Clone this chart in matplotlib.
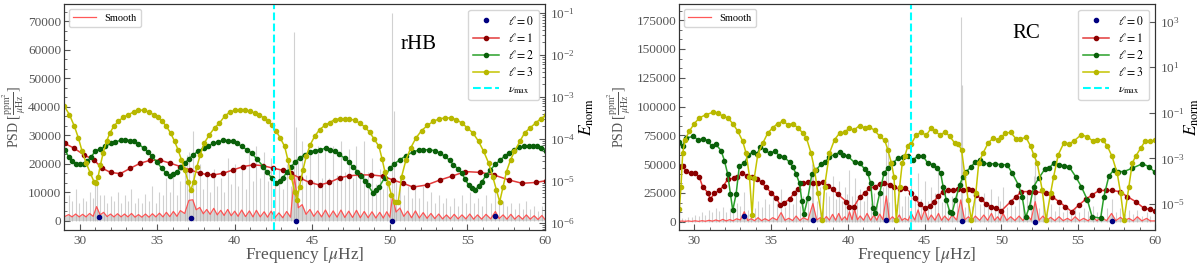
import numpy as np
import matplotlib
matplotlib.use('Agg')
import matplotlib.pyplot as plt
from matplotlib.ticker import AutoMinorLocator, FixedLocator, LogLocator, NullLocator, MultipleLocator

plt.rcParams['font.family'] = ['Liberation Serif', 'DejaVu Serif']
plt.rcParams['mathtext.fontset'] = 'stix'

# ---------------- rHB ----------------
hb_bump_nu = [29.3, 29.75, 30.2, 30.65, 31.1,
              31.55, 32.0, 32.45, 32.9, 33.35,
              33.8, 34.25, 34.7, 35.15, 35.6,
              36.05, 36.5, 37.05, 37.3, 37.75,
              38.2, 38.65, 39.1, 39.55, 40.0,
              40.45, 40.95, 41.4, 41.9, 42.35,
              42.85, 43.35, 43.85, 44.35, 44.85,
              45.35, 45.85, 46.35, 46.85, 47.35,
              47.85, 48.35, 48.85, 49.35, 49.8,
              50.17, 50.65, 51.15, 51.65, 52.15,
              52.65, 53.15, 53.65, 54.15, 54.65,
              55.15, 55.65, 56.2, 56.8, 57.3,
              57.8, 58.3, 58.8, 59.3, 59.8]
hb_bump_psd = [2100, 2300, 2200, 2500, 4900,
               2900, 2300, 2400, 2300, 2500,
               2100, 2300, 2400, 2600, 2900,
               3200, 3500, 7100, 7300, 4600,
               3900, 4300, 3600, 3900, 3300,
               3700, 3400, 3600, 3100, 3300,
               2700, 3200, 15500, 5600, 3900,
               3400, 3700, 3400, 3700, 3300,
               3600, 3200, 3100, 2900, 3100,
               8500, 4400, 3300, 3400, 2800,
               2500, 2300, 2000, 2200, 2000,
               2300, 2000, 2200, 3200, 2000,
               2200, 1800, 2000, 1700, 1800]
hb_spike = [9000, 11000, 8000, 10000, 14500,
            9000, 8500, 10000, 9000, 11000,
            8000, 9500, 12000, 10000, 15000,
            17000, 14000, 24000, 31500, 20000,
            16000, 18000, 15000, 22000, 20000,
            18000, 24000, 26000, 24000, 22000,
            18000, 20000, 66000, 28000, 24000,
            26000, 25000, 26000, 28000, 25000,
            26000, 28000, 22000, 18000, 14000,
            72700, 15000, 12000, 13000, 12000,
            10000, 9000, 8000, 8000, 9000,
            10000, 8000, 9000, 10000, 7000,
            6000, 6000, 7000, 5000, 5000]
hb_dip_nu = [29.0, 29.52, 29.98, 30.42, 30.88,
             31.33, 31.78, 32.22, 32.68, 33.12,
             33.58, 34.02, 34.48, 34.92, 35.38,
             35.82, 36.28, 36.78, 37.52, 37.98,
             38.42, 38.88, 39.32, 39.78, 40.22,
             40.7, 41.18, 41.65, 42.12, 42.6,
             43.1, 43.6, 44.1, 44.6, 45.1,
             45.6, 46.1, 46.6, 47.1, 47.6,
             48.1, 48.6, 49.1, 49.58, 50.0,
             50.4, 50.9, 51.4, 51.9, 52.4,
             52.9, 53.4, 53.9, 54.4, 54.9,
             55.4, 55.92, 56.5, 57.05, 57.55,
             58.05, 58.55, 59.05, 59.55, 60.0]
hb_dip_psd = [1300, 1300, 1300, 1300, 1500,
              2000, 1400, 1300, 1300, 1300,
              1200, 1200, 1200, 1300, 1300,
              1400, 1500, 2500, 3800, 2400,
              2200, 2000, 1800, 1700, 1500,
              1400, 1300, 1300, 1200, 1100,
              1000, 1200, 4500, 2200, 1500,
              1300, 1200, 1200, 1100, 1100,
              1000, 1000, 900, 900, 1200,
              3000, 1500, 1000, 900, 800,
              700, 600, 600, 600, 600,
              500, 500, 600, 700, 500,
              500, 500, 500, 400, 400]
hb_dip_spike = [5000, 7000, 6000, 7000, 8000,
                9000, 6000, 7000, 6000, 7000,
                6000, 6000, 7000, 6000, 9000,
                10000, 9000, 16000, 14000, 11000,
                10000, 12000, 10000, 13000, 12000,
                11000, 14000, 15000, 14000, 13000,
                11000, 12000, 22000, 16000, 14000,
                15000, 15000, 16000, 17000, 15000,
                16000, 17000, 13000, 11000, 9000,
                14000, 9000, 8000, 8000, 7000,
                6000, 6000, 5000, 5000, 6000,
                6000, 5000, 6000, 6000, 5000,
                4000, 4000, 4000, 3500, 3500]
hb_extra_nu = [31.0, 36.95, 43.95, 50.26]
hb_extra_psd = [13000, 23000, 33000, 38500]

hb_l0_nu = [31.24, 37.2, 43.92, 50.15, 56.8]
hb_l0_log = [-5.86, -5.90, -5.95, -5.96, -5.83]

hb_l1_nu = [29.06, 29.64, 30.28, 30.92, 31.46, 32.0, 32.63, 33.28, 33.92, 34.56,
            35.2, 35.85, 36.5, 37.13, 37.77, 38.2, 38.63, 39.27, 39.9, 40.56,
            41.2, 41.84, 42.48, 43.13, 43.6, 44.18, 44.83, 45.47, 46.1, 46.76,
            47.4, 48.05, 48.8, 49.55, 50.2, 50.85, 51.5, 52.38, 53.24, 54.0,
            54.86, 55.83, 56.7, 57.67, 58.53, 59.4, 60.04]
hb_l1_log = [-4.11, -4.22, -4.38, -4.50, -4.70, -4.80, -4.83, -4.70, -4.58, -4.51,
             -4.51, -4.58, -4.66, -4.74, -4.82, -4.85, -4.86, -4.82, -4.74, -4.66,
             -4.62, -4.64, -4.70, -4.75, -4.82, -4.93, -5.04, -5.10, -5.04, -4.93,
             -4.88, -4.86, -4.86, -4.89, -4.98, -5.06, -5.15, -5.10, -4.98, -4.89,
             -4.78, -4.80, -4.86, -4.98, -5.06, -5.04, -5.00]

hb_l2_nu = [29.06, 29.3, 29.53, 29.8, 30.06, 30.3, 30.5, 30.75, 31.0, 31.3,
            31.67, 32.0, 32.3, 32.65, 32.96, 33.25, 33.5, 33.8, 34.13, 34.4,
            34.67, 35.0, 35.3, 35.6, 35.85, 36.05, 36.27, 36.55, 36.8, 37.05,
            37.34, 37.65, 38.0, 38.3, 38.63, 38.95, 39.27, 39.6, 39.9, 40.18,
            40.45, 40.8, 41.1, 41.45, 41.84, 42.1, 42.38, 42.68, 42.9, 43.1,
            43.38, 43.65, 43.9, 44.18, 44.5, 44.83, 45.15, 45.47, 45.9, 46.17,
            46.44, 46.75, 47.08, 47.35, 47.6, 47.9, 48.15, 48.38, 48.58, 48.9,
            49.12, 49.33, 49.66, 50.0, 50.3, 50.65, 51.05, 51.5, 51.85, 52.16,
            52.55, 52.9, 53.25, 53.56, 53.85, 54.1, 54.38, 54.64, 54.85, 55.07,
            55.3, 55.5, 55.72, 55.94, 56.2, 56.48, 56.8, 57.13, 57.4, 57.67,
            58.0, 58.32, 58.65, 58.96, 59.25, 59.5, 59.75, 60.04]
hb_l2_log = [-4.26, -4.43, -4.53, -4.59, -4.60, -4.59, -4.53, -4.43, -4.30, -4.24,
             -4.18, -4.11, -4.08, -4.03, -4.02, -4.04, -4.06, -4.12, -4.22, -4.31,
             -4.42, -4.56, -4.70, -4.82, -4.89, -4.85, -4.78, -4.68, -4.58, -4.47,
             -4.38, -4.29, -4.22, -4.16, -4.11, -4.07, -4.03, -4.04, -4.06, -4.11,
             -4.18, -4.26, -4.34, -4.49, -4.66, -4.80, -4.93, -5.06, -5.00, -4.93,
             -4.79, -4.66, -4.55, -4.46, -4.38, -4.31, -4.28, -4.26, -4.22, -4.26,
             -4.30, -4.37, -4.46, -4.55, -4.66, -4.78, -4.88, -5.00, -5.10, -5.28,
             -5.21, -5.14, -4.93, -4.70, -4.59, -4.50, -4.40, -4.31, -4.27, -4.26,
             -4.26, -4.28, -4.34, -4.42, -4.51, -4.62, -4.71, -4.82, -4.96, -5.10,
             -5.18, -5.23, -5.12, -5.02, -4.87, -4.74, -4.61, -4.50, -4.41, -4.34,
             -4.26, -4.20, -4.18, -4.18, -4.17, -4.18, -4.21, -4.28]

hb_l3_nu = [29.02, 29.35, 29.67, 29.93, 30.17, 30.43, 30.70, 30.93, 31.04, 31.20,
            31.35, 31.52, 31.74, 31.96, 32.20, 32.50, 32.83, 33.15, 33.48, 33.80,
            34.13, 34.46, 34.78, 35.04, 35.33, 35.60, 35.87, 36.13, 36.35, 36.57,
            36.78, 37.00, 37.17, 37.35, 37.57, 37.78, 38.04, 38.37, 38.70, 39.02,
            39.35, 39.68, 40.00, 40.32, 40.64, 40.97, 41.29, 41.57, 41.87, 42.15,
            42.42, 42.68, 42.94, 43.22, 43.43, 43.65, 43.86, 44.01, 44.18, 44.40,
            44.61, 44.87, 45.15, 45.47, 45.80, 46.12, 46.44, 46.76, 47.08, 47.40,
            47.73, 48.05, 48.37, 48.70, 49.00, 49.30, 49.50, 49.68, 49.90, 50.10,
            50.32, 50.54, 50.76, 51.04, 51.34, 51.68, 52.05, 52.42, 52.80, 53.20,
            53.56, 53.93, 54.28, 54.64, 55.00, 55.36, 55.72, 56.05, 56.37, 56.63,
            56.87, 57.08, 57.30, 57.52, 57.78, 58.03, 58.38, 58.68, 59.03, 59.40,
            59.72, 60.04]
hb_l3_log = [-3.22, -3.42, -3.70, -3.98, -4.30, -4.58, -4.82, -5.02, -5.06, -4.90,
             -4.62, -4.34, -4.06, -3.86, -3.70, -3.58, -3.48, -3.42, -3.36, -3.32,
             -3.31, -3.36, -3.42, -3.48, -3.58, -3.70, -3.86, -4.06, -4.26, -4.50,
             -4.74, -5.02, -5.23, -5.02, -4.66, -4.38, -4.10, -3.90, -3.74, -3.62,
             -3.46, -3.36, -3.32, -3.30, -3.30, -3.34, -3.38, -3.42, -3.50, -3.58,
             -3.68, -3.82, -3.98, -4.18, -4.50, -4.90, -5.26, -5.46, -5.14, -4.74,
             -4.42, -4.14, -3.94, -3.78, -3.68, -3.61, -3.54, -3.52, -3.52, -3.52,
             -3.56, -3.62, -3.71, -3.84, -4.01, -4.18, -4.48, -4.78, -5.06, -5.34,
             -5.50, -5.50, -4.90, -4.50, -4.22, -3.98, -3.80, -3.68, -3.58, -3.52,
             -3.50, -3.50, -3.54, -3.62, -3.74, -3.86, -4.06, -4.30, -4.58, -4.90,
             -5.22, -5.50, -5.14, -4.78, -4.50, -4.30, -4.06, -3.86, -3.74, -3.62,
             -3.52, -3.44]

# ---------------- RC ----------------
rc_bump_nu = [29.2, 29.6, 30.05, 30.5, 30.95,
              31.4, 31.85, 32.3, 32.75, 33.25,
              33.7, 34.15, 34.6, 35.1, 35.65,
              36.15, 36.63, 37.1, 37.72, 38.2,
              38.6, 39.0, 39.4, 39.8, 40.1,
              40.43, 40.8, 41.25, 41.7, 42.07,
              42.5, 42.9, 43.35, 43.7, 44.13,
              44.57, 45.0, 45.43, 45.9, 46.3,
              46.8, 47.35, 47.85, 48.3, 48.85,
              49.35, 49.75, 50.1, 50.6, 51.15,
              51.67, 52.2, 52.7, 53.2, 53.75,
              54.3, 54.8, 55.35, 55.95, 56.5,
              57.17, 57.75, 58.3, 58.85, 59.45]
rc_bump_psd = [600, 700, 800, 900, 1200,
               1500, 2000, 1800, 2500, 8700,
               2600, 3500, 2600, 3500, 7900,
               3000, 4900, 3500, 15700, 3500,
               4500, 6400, 7200, 4300, 8700,
               10700, 5000, 7200, 5800, 6600,
               22300, 4300, 5800, 2900, 7200,
               10200, 10200, 5800, 7200, 4900,
               5800, 18900, 4300, 4900, 5800,
               7200, 4300, 7200, 4300, 4900,
               5800, 17400, 4900, 3800, 4300,
               2900, 4300, 2900, 4300, 3800,
               7200, 3800, 2900, 4300, 2900]
rc_spike = [3000, 4000, 6000, 8000, 10000,
            12000, 13000, 12000, 16000, 26000,
            15000, 18000, 20000, 24000, 28000,
            20000, 26000, 22000, 42000, 30000,
            26000, 40000, 35000, 30000, 45000,
            38000, 28000, 30000, 25000, 32000,
            65000, 28000, 25000, 22000, 38000,
            42000, 35000, 30000, 45000, 28000,
            22000, 178000, 20000, 22000, 25000,
            28000, 22000, 30000, 20000, 22000,
            25000, 55000, 20000, 15000, 14000,
            12000, 13000, 12000, 14000, 12000,
            20000, 12000, 10000, 10000, 8000]
rc_dip_nu = [29.0, 29.4, 29.82, 30.28, 30.72,
             31.18, 31.62, 32.08, 32.52, 33.0,
             33.48, 33.92, 34.38, 34.85, 35.38,
             35.9, 36.4, 36.87, 37.4, 37.97,
             38.4, 38.8, 39.2, 39.6, 39.95,
             40.27, 40.62, 41.02, 41.48, 41.88,
             42.28, 42.7, 43.12, 43.52, 43.92,
             44.35, 44.78, 45.22, 45.67, 46.1,
             46.55, 47.08, 47.6, 48.08, 48.58,
             49.1, 49.55, 49.92, 50.35, 50.88,
             51.4, 51.93, 52.45, 52.95, 53.48,
             54.02, 54.55, 55.08, 55.65, 56.22,
             56.85, 57.45, 58.02, 58.58, 59.15,
             59.7, 60.0]
rc_dip_psd = [300, 300, 300, 300, 400,
              500, 600, 700, 800, 1500,
              1000, 900, 900, 900, 1500,
              1200, 1000, 1000, 1500, 1500,
              1300, 1300, 1300, 1300, 1500,
              1800, 1600, 1300, 1300, 1300,
              1800, 1500, 1300, 1200, 1200,
              1500, 1800, 1400, 1300, 1200,
              1200, 1500, 1500, 1200, 1200,
              1200, 1200, 1200, 1100, 1000,
              1000, 1500, 1200, 900, 900,
              900, 900, 800, 800, 800,
              900, 900, 800, 700, 700,
              700, 700]
rc_dip_spike = [2000, 2500, 4000, 5000, 6000,
                8000, 9000, 8000, 10000, 14000,
                10000, 12000, 13000, 15000, 16000,
                13000, 15000, 14000, 22000, 18000,
                16000, 22000, 20000, 18000, 24000,
                22000, 17000, 18000, 16000, 19000,
                30000, 17000, 15000, 14000, 22000,
                24000, 20000, 18000, 25000, 17000,
                14000, 30000, 13000, 14000, 15000,
                17000, 14000, 18000, 13000, 14000,
                15000, 25000, 12000, 10000, 9000,
                8000, 8000, 8000, 9000, 8000,
                12000, 8000, 7000, 7000, 5000,
                5000, 4000]
rc_extra_nu = [37.65, 42.6, 47.42, 52.12]
rc_extra_psd = [50000, 71000, 119000, 40000]

rc_l0_nu = [33.26, 37.72, 42.5, 47.4, 52.2, 57.17]
rc_l0_log = [-5.53, -5.72, -5.71, -5.75, -5.78, -5.75]

rc_l1_nu = [29.02, 29.24, 29.46, 29.78, 30.04, 30.33, 30.54, 30.87, 31.04, 31.30,
            31.63, 31.91, 32.17, 32.57, 32.78, 33.10, 33.43, 33.74, 34.10, 34.40,
            34.67, 35.00, 35.33, 35.60, 35.87, 36.20, 36.48, 36.74, 37.07, 37.40,
            37.72, 38.04, 38.37, 38.70, 39.00, 39.35, 39.90, 40.10, 40.40, 40.76,
            41.10, 41.40, 41.74, 42.07, 42.35, 42.72, 43.00, 43.37, 43.70, 44.10,
            44.35, 44.67, 45.00, 45.33, 45.60, 45.90, 46.20, 46.52, 46.85, 47.17,
            47.50, 47.83, 48.09, 48.37, 48.70, 49.00, 49.35, 49.67, 50.00, 50.60,
            50.96, 51.30, 51.78, 52.20, 52.87, 53.30, 53.74, 54.17, 54.57, 55.04,
            55.48, 55.90, 56.35, 56.78, 57.20, 57.70, 58.20, 58.74, 59.28, 59.65,
            60.00]
rc_l1_log = [-3.36, -3.32, -3.57, -3.66, -3.66, -3.83, -4.25, -4.50, -4.79, -4.54,
             -4.40, -4.20, -3.91, -3.88, -3.83, -3.66, -3.76, -3.83, -3.91, -4.06,
             -4.28, -4.50, -4.75, -5.05, -4.94, -4.79, -4.54, -4.35, -4.10, -4.06,
             -4.10, -4.10, -4.06, -4.20, -4.35, -4.58, -4.90, -5.12, -5.12, -4.71,
             -4.53, -4.31, -4.24, -4.14, -4.09, -4.16, -4.24, -4.36, -4.31, -4.50,
             -4.75, -5.00, -5.19, -5.09, -4.90, -4.65, -4.46, -4.41, -4.38, -4.36,
             -4.38, -4.36, -4.41, -4.61, -4.80, -5.00, -5.12, -5.19, -5.30, -4.90,
             -4.68, -4.46, -4.46, -4.46, -4.53, -4.68, -4.90, -5.12, -5.34, -5.05,
             -4.80, -4.61, -4.41, -4.41, -4.41, -4.46, -4.68, -4.90, -5.19, -5.24,
             -5.30]

rc_l2_nu = [29.02, 29.24, 29.46, 29.93, 30.26, 30.59, 30.87, 31.13, 31.41, 31.74,
            31.96, 32.17, 32.35, 32.50, 32.72, 32.93, 33.26, 33.52, 33.80, 34.09,
            34.30, 34.57, 34.90, 35.22, 35.54, 35.87, 36.20, 36.40, 36.63, 36.85,
            37.00, 37.13, 37.40, 37.65, 37.93, 38.26, 38.52, 38.80, 39.13, 39.46,
            39.67, 40.00, 40.43, 40.76, 41.10, 41.30, 41.48, 41.63, 41.78, 42.07,
            42.35, 42.60, 42.93, 43.26, 43.58, 43.90, 44.24, 44.57, 44.90, 45.20,
            45.54, 45.83, 46.04, 46.20, 46.41, 46.63, 46.78, 47.00, 47.28, 47.50,
            47.72, 48.04, 48.26, 48.60, 48.80, 49.17, 49.56, 50.00, 50.37, 50.70,
            51.10, 51.35, 51.57, 51.83, 52.10, 52.43, 52.83, 53.10, 53.40, 53.78,
            54.07, 54.40, 54.83, 55.20, 55.60, 55.90, 56.46, 56.67, 57.00, 57.33,
            57.60, 57.98, 58.52, 59.17, 59.60, 60.00]
rc_l2_log = [-2.29, -2.44, -2.10, -2.04, -2.19, -2.14, -2.22, -2.47, -2.39, -2.66,
             -3.10, -3.69, -4.57, -5.28, -4.57, -3.32, -3.22, -2.84, -2.73, -2.81,
             -2.48, -2.63, -2.78, -2.69, -2.88, -2.95, -3.17, -3.36, -3.69, -4.10,
             -4.87, -5.46, -4.72, -3.69, -3.51, -3.25, -3.17, -2.92, -2.84, -2.73,
             -2.84, -2.91, -3.18, -3.21, -3.47, -3.65, -4.09, -5.19, -5.41, -4.53,
             -3.65, -3.43, -3.21, -2.99, -2.94, -2.91, -3.06, -2.89, -2.91, -3.21,
             -3.28, -3.43, -3.65, -4.24, -4.83, -5.34, -5.41, -4.83, -4.16, -3.80,
             -3.58, -3.36, -3.18, -3.09, -3.21, -3.24, -3.24, -3.28, -3.28, -3.65,
             -4.16, -4.68, -5.59, -5.12, -4.24, -3.87, -3.47, -3.43, -3.21, -3.28,
             -3.33, -3.36, -3.80, -4.24, -4.83, -5.56, -5.63, -4.68, -3.77, -3.50,
             -3.58, -3.58, -3.43, -3.24, -3.36, -3.62]

rc_l3_nu = [29.02, 29.13, 29.24, 29.40, 29.67, 30.00, 30.33, 30.76, 31.20, 31.52,
            31.85, 32.17, 32.50, 32.83, 33.15, 33.37, 33.59, 33.76, 33.90, 34.13,
            34.46, 34.78, 35.10, 35.43, 35.76, 36.10, 36.40, 36.74, 37.07, 37.30,
            37.60, 37.83, 38.04, 38.33, 38.48, 38.80, 39.13, 39.46, 39.78, 40.10,
            40.37, 40.76, 41.10, 41.40, 41.74, 42.07, 42.40, 42.60, 42.83, 43.00,
            43.15, 43.37, 43.54, 43.70, 43.90, 44.13, 44.46, 44.78, 45.10, 45.43,
            45.65, 45.98, 46.35, 46.63, 46.96, 47.17, 47.40, 47.60, 47.83, 48.04,
            48.33, 48.52, 48.80, 49.13, 49.46, 49.78, 50.00, 50.26, 50.60, 50.96,
            51.24, 51.60, 51.90, 52.10, 52.33, 52.65, 52.90, 53.20, 53.40, 53.70,
            54.06, 54.40, 54.70, 55.20, 55.60, 55.98, 56.24, 56.60, 56.90, 57.20,
            57.54, 57.76, 57.98, 58.30, 58.52, 58.74, 59.07, 59.35, 59.65, 60.00]
rc_l3_log = [-5.24, -4.24, -2.77, -2.18, -1.81, -1.47, -1.22, -1.08, -0.98, -1.00,
             -1.15, -1.22, -1.47, -1.81, -2.25, -2.77, -3.80, -5.49, -3.87, -2.84,
             -2.33, -1.89, -1.66, -1.47, -1.37, -1.52, -1.47, -1.66, -1.89, -2.11,
             -2.77, -3.50, -4.53, -5.71, -4.24, -2.77, -2.18, -1.89, -1.86, -1.66,
             -1.77, -1.56, -1.66, -1.62, -1.77, -2.03, -2.21, -2.62, -3.21, -3.80,
             -5.71, -4.24, -3.21, -2.91, -2.47, -2.36, -1.96, -1.86, -1.99, -1.66,
             -1.81, -1.96, -1.86, -2.03, -2.33, -2.36, -2.62, -3.65, -4.83, -5.71,
             -4.53, -3.21, -2.77, -2.33, -2.11, -2.18, -2.06, -1.89, -1.86, -2.15,
             -2.15, -2.08, -2.47, -2.84, -3.21, -4.38, -5.71, -4.53, -3.80, -2.84,
             -2.33, -2.36, -2.25, -1.96, -2.06, -2.25, -2.18, -2.18, -2.47, -2.91,
             -3.65, -4.53, -5.71, -4.24, -3.21, -2.91, -2.55, -2.25, -2.25, -2.21]

panels = [
    dict(name='rHB', numax=42.55,
         bump_nu=hb_bump_nu, bump_psd=hb_bump_psd, spike=hb_spike,
         dip_nu=hb_dip_nu, dip_psd=hb_dip_psd, dip_spike=hb_dip_spike,
         extra_nu=hb_extra_nu, extra_psd=hb_extra_psd,
         l0=(hb_l0_nu, hb_l0_log), l1=(hb_l1_nu, hb_l1_log), l2=(hb_l2_nu, hb_l2_log), l3=(hb_l3_nu, hb_l3_log),
         ylim=(-3300, 76000), elim=(-6.175, -0.78), yticks=10000,
         eticks=[1e-6, 1e-5, 1e-4, 1e-3, 1e-2, 1e-1], eminor=True,
         rect=[64 / 1200, 35 / 265, 481 / 1200, 226 / 265], txt=(0.70, 0.82),
         ylab_x=-0.074, elab_x=1.068),
    dict(name='RC', numax=44.1,
         bump_nu=rc_bump_nu, bump_psd=rc_bump_psd, spike=rc_spike,
         dip_nu=rc_dip_nu, dip_psd=rc_dip_psd, dip_spike=rc_dip_spike,
         extra_nu=rc_extra_nu, extra_psd=rc_extra_psd,
         l0=(rc_l0_nu, rc_l0_log), l1=(rc_l1_nu, rc_l1_log), l2=(rc_l2_nu, rc_l2_log), l3=(rc_l3_nu, rc_l3_log),
         ylim=(-7200, 189000), elim=(-6.147, 3.78), yticks=25000,
         eticks=[1e-5, 1e-3, 1e-1, 1e1, 1e3], eminor=False,
         rect=[679 / 1200, 35 / 265, 476 / 1200, 226 / 265], txt=(0.70, 0.87),
         ylab_x=-0.097, elab_x=1.058),
]

TXT = '#555555'
fig = plt.figure(figsize=(12, 2.65), dpi=100)

for p in panels:
    ax = fig.add_axes(p['rect'])
    # grey spectrum: spikes + dense floor under the smoothed curve
    sm_nu = np.concatenate([p['bump_nu'], p['dip_nu']])
    sm_psd = np.concatenate([p['bump_psd'], p['dip_psd']])
    order = np.argsort(sm_nu)
    sm_nu, sm_psd = sm_nu[order], sm_psd[order]
    grey = dict(color='#a5a5a5', alpha=0.5, lw=0.8)
    ax.vlines(p['bump_nu'], 0, p['spike'], **grey)
    ax.vlines(p['dip_nu'], 0, p['dip_spike'], **grey)
    ax.vlines(p['extra_nu'], 0, p['extra_psd'], **grey)
    ax.fill_between(sm_nu, 0, sm_psd, color='#bbbbbb', alpha=0.6, lw=0)
    ax.plot(sm_nu, sm_psd, color='#ff3b3b', lw=0.9, alpha=0.85, label='Smooth')

    ax.set_xlim(29, 60)
    ax.set_ylim(*p['ylim'])
    ax.xaxis.set_major_locator(MultipleLocator(5))
    ax.xaxis.set_minor_locator(AutoMinorLocator(5))
    ax.yaxis.set_major_locator(MultipleLocator(p['yticks']))
    ax.yaxis.set_minor_locator(AutoMinorLocator(3))
    ax.tick_params(which='both', direction='in', colors=TXT, labelsize=9.5)
    ax.tick_params(axis='y', pad=2)
    ax.tick_params(which='major', length=4)
    ax.tick_params(which='minor', length=2)
    ax.set_xlabel(r'Frequency [$\mu$Hz]', color=TXT, fontsize=12.5, labelpad=-1)
    ax.set_ylabel(r'PSD [$\frac{\mathrm{ppm}^2}{\mu\mathrm{Hz}}$]', color=TXT, fontsize=10)
    ax.yaxis.set_label_coords(p['ylab_x'], 0.5)
    ax.text(p['txt'][0], p['txt'][1], p['name'], transform=ax.transAxes, fontsize=15, va='center')
    ax.legend(loc='upper left', fontsize=7.5, framealpha=0.8, edgecolor='#cccccc', handlelength=2.2)

    ax2 = ax.twinx()
    ax2.set_yscale('log')
    nu0, lg0 = p['l0']
    ax2.plot(nu0, 10 ** np.array(lg0), 'o', ls='none', color='navy', ms=3, label=r'$\ell = 0$')
    for key, lc, mc in [('l1', '#e33a3a', '#8b0000'), ('l2', '#2aa02a', '#0a600a'), ('l3', '#c4c400', '#b8b800')]:
        nu, lg = p[key]
        ax2.plot(nu, 10 ** np.array(lg), '-o', color=lc, mfc=mc, mec=mc, ms=3.0, lw=1.1,
                 label=r'$\ell = %s$' % key[1])
    ax2.axvline(p['numax'], color='cyan', ls='--', lw=1.5, label=r'$\nu_{\rm max}$')
    ax2.set_ylim(10 ** p['elim'][0], 10 ** p['elim'][1])
    ax2.yaxis.set_major_locator(FixedLocator(p['eticks']))
    if p['eminor']:
        ax2.yaxis.set_minor_locator(LogLocator(base=10, subs=np.arange(2, 10), numticks=20))
    else:
        ax2.yaxis.set_minor_locator(NullLocator())
    ax2.tick_params(which='both', direction='in', colors=TXT, labelsize=9.5)
    ax2.tick_params(which='major', length=4)
    ax2.tick_params(which='minor', length=2)
    ax2.set_ylabel(r'$E_{\rm norm}$', fontsize=12.5)
    ax2.yaxis.set_label_coords(p['elab_x'], 0.5)
    ax2.legend(loc='upper right', fontsize=8.5, framealpha=0.8, edgecolor='#cccccc',
               handlelength=2.2, labelspacing=0.35)
    for a in (ax, ax2):
        for s in a.spines.values():
            s.set_color('#333333')

fig.savefig('out.png', dpi=100)
